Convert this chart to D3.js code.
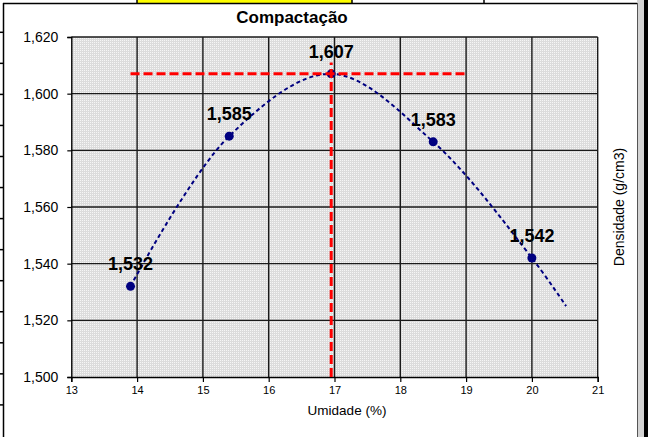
<!DOCTYPE html>
<html>
<head>
<meta charset="utf-8">
<script src="https://cdn.jsdelivr.net/npm/d3@7"></script>
<style>
  html, body { margin: 0; padding: 0; background: #fff; }
  svg { display: block; font-family: "Liberation Sans", Arial, sans-serif; }
</style>
</head>
<body>
<svg id="chart" width="648" height="437"></svg>
<script>
// Ensaio de compactação: umidade (%) x densidade seca (g/cm3)
const umidade   = [13.9, 15.4, 16.95, 18.5, 20.0];
const densidade = [1.532, 1.585, 1.607, 1.583, 1.542];

// Curva de ajuste (linha suavizada, prolongada além do último ponto)
const ajusteUmidade   = [13.9, 15.4, 16.95, 18.5, 20.0, 20.52];
const ajusteDensidade = [1.532, 1.585, 1.607, 1.583, 1.542, 1.525];

// Linhas de referência: densidade máxima e umidade ótima
const densMax = 1.607;
const umidOtima = 16.95;
const refHorizUmidade = [13.9, 19.0];
const refVertDensidade = [1.500, 1.611];

const xTicks = [13, 14, 15, 16, 17, 18, 19, 20, 21];
const yTicks = [1.500, 1.520, 1.540, 1.560, 1.580, 1.600, 1.620];

const titulo = "Compactação";
const tituloX = "Umidade (%)";
const tituloY = "Densidade (g/cm3)";

const svg = d3.select("#chart");
const W = 648, H = 437;

const ptBR = d3.formatLocale({ decimal: ",", thousands: ".", grouping: [3], currency: ["R$", ""] });
const fmt3 = ptBR.format(".3f");

const plot = { left: 71.3, right: 597.7, top: 37, bottom: 377 };
const x = d3.scaleLinear().domain([13, 21]).range([plot.left, plot.right]);
const y = d3.scaleLinear().domain([1.5, 1.62]).range([plot.bottom, plot.top]);

// ---- moldura da planilha ao redor do gráfico ----
svg.append("rect").attr("width", W).attr("height", H).attr("fill", "#fff");
svg.append("rect").attr("x", 137).attr("y", 0).attr("width", 215).attr("height", 3).attr("fill", "#ffff00");
[137, 352, 484].forEach(cx => {
  svg.append("line").attr("x1", cx).attr("x2", cx).attr("y1", 0).attr("y2", 3)
    .attr("stroke", "#000").attr("stroke-width", 1.5);
});
for (let i = 0; i < 13; i++) {
  const ry = 32.3 + i * 31.05;
  svg.append("line").attr("x1", 0).attr("x2", 3).attr("y1", ry).attr("y2", ry)
    .attr("stroke", "#000").attr("stroke-width", 1.5);
}
// área do gráfico
svg.append("line").attr("x1", 3).attr("x2", 637).attr("y1", 3.5).attr("y2", 3.5)
  .attr("stroke", "#000").attr("stroke-width", 1.5);
svg.append("line").attr("x1", 3.5).attr("x2", 3.5).attr("y1", 3).attr("y2", H)
  .attr("stroke", "#000").attr("stroke-width", 1.5);
svg.append("rect").attr("x", 637).attr("y", 0).attr("width", 7).attr("height", H).attr("fill", "#d4d4d4");
svg.append("line").attr("x1", 637.5).attr("x2", 637.5).attr("y1", 3).attr("y2", H)
  .attr("stroke", "#555").attr("stroke-width", 1);
svg.append("rect").attr("x", 644).attr("y", 0).attr("width", 4).attr("height", H).attr("fill", "#000");

// ---- fundo pontilhado da área de plotagem ----
const defs = svg.append("defs");
const pat = defs.append("pattern").attr("id", "pontilhado")
  .attr("patternUnits", "userSpaceOnUse").attr("width", 2).attr("height", 2);
pat.append("rect").attr("width", 2).attr("height", 2).attr("fill", "#dcdcdc");
pat.append("rect").attr("width", 1).attr("height", 1).attr("fill", "#f6f6f6");

svg.append("rect")
  .attr("x", plot.left).attr("y", plot.top)
  .attr("width", plot.right - plot.left).attr("height", plot.bottom - plot.top)
  .attr("fill", "url(#pontilhado)");

// ---- grade ----
const grid = svg.append("g").attr("stroke", "#1a1a1a").attr("stroke-width", 1.4);
grid.selectAll("line.v").data(xTicks.slice(1)).join("line")
  .attr("x1", d => x(d)).attr("x2", d => x(d))
  .attr("y1", plot.top).attr("y2", plot.bottom);
grid.selectAll("line.h").data(yTicks.slice(1)).join("line")
  .attr("x1", plot.left).attr("x2", plot.right)
  .attr("y1", d => y(d)).attr("y2", d => y(d));

// ---- eixos ----
const xAxis = d3.axisBottom(x).tickValues(xTicks).tickSize(5).tickPadding(4)
  .tickFormat(d3.format("d"));
const gx = svg.append("g").attr("transform", `translate(0,${plot.bottom})`).call(xAxis);
gx.select(".domain").attr("stroke", "#000").attr("stroke-width", 1.4);
gx.selectAll(".tick line").attr("stroke", "#000").attr("stroke-width", 1.2);
gx.selectAll(".tick text").attr("font-size", 11).attr("fill", "#000")
  .attr("font-family", "Liberation Sans, Arial, sans-serif");

const yAxis = d3.axisLeft(y).tickValues(yTicks).tickSize(4).tickPadding(9)
  .tickFormat(fmt3);
const gy = svg.append("g").attr("transform", `translate(${plot.left},0)`).call(yAxis);
gy.select(".domain").attr("stroke", "#000").attr("stroke-width", 1.4);
gy.selectAll(".tick line").attr("stroke", "#000").attr("stroke-width", 1.2);
gy.selectAll(".tick text").attr("font-size", 14).attr("fill", "#000")
  .attr("font-family", "Liberation Sans, Arial, sans-serif");

// ---- curva de ajuste ----
const ajuste = ajusteUmidade.map((u, i) => [u, ajusteDensidade[i]]);
svg.append("path")
  .datum(ajuste)
  .attr("fill", "none")
  .attr("stroke", "#000080")
  .attr("stroke-width", 2)
  .attr("stroke-dasharray", "4,3")
  .attr("d", d3.line().x(d => x(d[0])).y(d => y(d[1])).curve(d3.curveCatmullRom.alpha(0.5)));

// ---- pontos do ensaio ----
const pontos = umidade.map((u, i) => ({ u, d: densidade[i] }));
svg.append("g").selectAll("circle").data(pontos).join("circle")
  .attr("cx", p => x(p.u)).attr("cy", p => y(p.d)).attr("r", 4.5)
  .attr("fill", "#000080");

// ---- linhas de referência (densidade máxima / umidade ótima) ----
const ref = svg.append("g").attr("stroke", "#ff0000").attr("stroke-width", 3)
  .attr("stroke-dasharray", "9,4").attr("fill", "none");
ref.append("line")
  .attr("x1", x(refHorizUmidade[0])).attr("x2", x(refHorizUmidade[1]))
  .attr("y1", y(densMax)).attr("y2", y(densMax));
ref.append("line")
  .attr("x1", x(umidOtima)).attr("x2", x(umidOtima))
  .attr("y1", y(refVertDensidade[0])).attr("y2", y(refVertDensidade[1]));

// ---- rótulos de valor ----
svg.append("g").selectAll("text").data(pontos).join("text")
  .attr("x", p => x(p.u)).attr("y", p => y(p.d) - 16)
  .attr("text-anchor", "middle")
  .attr("font-size", 18).attr("font-weight", "bold").attr("fill", "#000")
  .text(p => fmt3(p.d));

// ---- títulos ----
svg.append("text").attr("x", 292).attr("y", 22.5).attr("text-anchor", "middle")
  .attr("font-size", 17).attr("font-weight", "bold").attr("fill", "#000")
  .text(titulo);
svg.append("text").attr("x", 347).attr("y", 415).attr("text-anchor", "middle")
  .attr("font-size", 13.5).attr("fill", "#000").text(tituloX);
svg.append("text").attr("transform", `translate(624,${(plot.top + plot.bottom) / 2}) rotate(-90)`)
  .attr("text-anchor", "middle").attr("font-size", 14).attr("fill", "#000").text(tituloY);
</script>
</body>
</html>
